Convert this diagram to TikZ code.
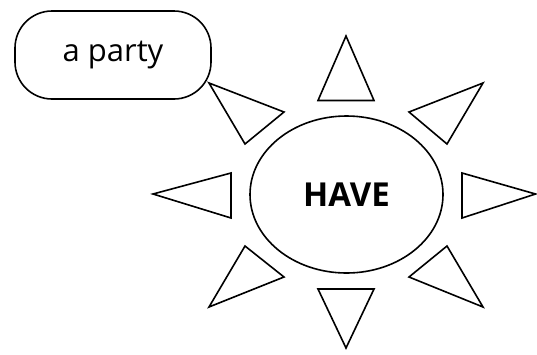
\documentclass[tikz,border=0pt]{standalone}
\usepackage{fontspec}
\setmainfont{Open Sans}
\usetikzlibrary{shapes.geometric}
\tikzset{
  outline/.style={draw=black, line width=1.6pt, line join=miter},
  ray/.style={outline, fill=white},
  bubble/.style={outline, rounded corners=37pt, minimum width=196pt, minimum height=88pt, inner sep=0pt, font=\fontsize{31}{36}\selectfont},
  core/.style={outline, ellipse, minimum width=193pt, minimum height=157pt, inner sep=0pt, font=\fontsize{33}{38}\selectfont\bfseries}
}
\begin{document}
\begin{tikzpicture}[x=1pt,y=-1pt]
\useasboundingbox (0,0) rectangle (537,354);
\node[bubble] (party) at (113,55) {a party};
\node[core] (have) at (346.5,194.5) {HAVE};
% rays
\draw[ray] (346,36) -- (374,100.5) -- (318,100.5) -- cycle;
\draw[ray] (346,348) -- (374,289) -- (318,289) -- cycle;
\draw[ray] (153,194) -- (231,173) -- (231,218) -- cycle;
\draw[ray] (535.5,194) -- (462,173) -- (462,218) -- cycle;
\draw[ray] (209,83) -- (284,112) -- (245,144) -- cycle;
\draw[ray] (483,83) -- (409,112) -- (447,144) -- cycle;
\draw[ray] (209,307) -- (284,277) -- (245,246) -- cycle;
\draw[ray] (483,307) -- (409,277) -- (447,246) -- cycle;
\end{tikzpicture}
\end{document}
